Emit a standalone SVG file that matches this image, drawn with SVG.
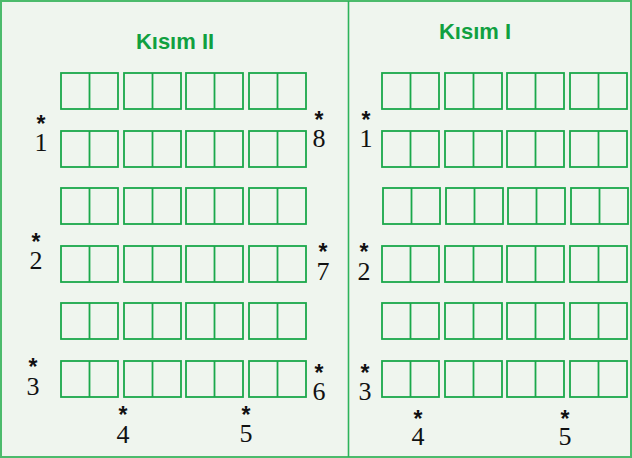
<svg xmlns="http://www.w3.org/2000/svg" xmlns:xlink="http://www.w3.org/1999/xlink" width="632" height="458" viewBox="0 0 632 458">
<style>
.frame{fill:#eff5ee;stroke:#4cbb6c;stroke-width:2}
.div{stroke:#2db35a;stroke-width:1.6}
.box{fill:none;stroke:#1aa84a;stroke-width:1.8}
.title{font-family:"Liberation Sans",Arial,sans-serif;font-weight:bold;font-size:22px;fill:#10a040;text-anchor:middle}
.lbl{fill:#111;text-anchor:middle}
.ast{font-family:"Liberation Sans",Arial,sans-serif;font-weight:bold;font-size:23px}
.num{font-family:"Liberation Serif","Times New Roman",serif;font-size:26px}
</style>
<defs>
<g id="pair"><rect class="box" x="0" y="0" width="57" height="36"/><line class="box" x1="28.5" y1="0" x2="28.5" y2="36"/></g>
<g id="row"><use xlink:href="#pair" x="0"/><use xlink:href="#pair" x="63"/><use xlink:href="#pair" x="125"/><use xlink:href="#pair" x="188"/></g>
</defs>
<rect class="frame" x="1" y="1" width="630" height="456"/>
<line class="div" x1="348.5" y1="1" x2="348.5" y2="457"/>
<g id="kisim2">
<text class="title" x="175" y="49">Kısım II</text>
<use xlink:href="#row" x="61" y="73"/>
<use xlink:href="#row" x="61" y="131"/>
<use xlink:href="#row" x="61" y="188"/>
<use xlink:href="#row" x="61" y="246"/>
<use xlink:href="#row" x="61" y="303"/>
<use xlink:href="#row" x="61" y="361"/>
<text class="lbl"><tspan class="ast" x="41" y="132">*</tspan><tspan class="num" x="41" y="151">1</tspan></text>
<text class="lbl"><tspan class="ast" x="36" y="250">*</tspan><tspan class="num" x="36" y="269">2</tspan></text>
<text class="lbl"><tspan class="ast" x="33" y="375">*</tspan><tspan class="num" x="33" y="395">3</tspan></text>
<text class="lbl"><tspan class="ast" x="123" y="423">*</tspan><tspan class="num" x="123" y="443">4</tspan></text>
<text class="lbl"><tspan class="ast" x="246" y="423">*</tspan><tspan class="num" x="246" y="442">5</tspan></text>
<text class="lbl"><tspan class="ast" x="319" y="381">*</tspan><tspan class="num" x="319" y="400">6</tspan></text>
<text class="lbl"><tspan class="ast" x="323" y="260">*</tspan><tspan class="num" x="323" y="280">7</tspan></text>
<text class="lbl"><tspan class="ast" x="319" y="128">*</tspan><tspan class="num" x="319" y="147">8</tspan></text>
</g>
<g id="kisim1">
<text class="title" x="475" y="39">Kısım I</text>
<use xlink:href="#row" x="382" y="73"/>
<use xlink:href="#row" x="382" y="131"/>
<use xlink:href="#row" x="383" y="188"/>
<use xlink:href="#row" x="382" y="246"/>
<use xlink:href="#row" x="382" y="303"/>
<use xlink:href="#row" x="382" y="361"/>
<text class="lbl"><tspan class="ast" x="366" y="128">*</tspan><tspan class="num" x="366" y="147">1</tspan></text>
<text class="lbl"><tspan class="ast" x="364" y="260">*</tspan><tspan class="num" x="364" y="280">2</tspan></text>
<text class="lbl"><tspan class="ast" x="365" y="381">*</tspan><tspan class="num" x="365" y="400">3</tspan></text>
<text class="lbl"><tspan class="ast" x="418" y="427">*</tspan><tspan class="num" x="418" y="445">4</tspan></text>
<text class="lbl"><tspan class="ast" x="565" y="427">*</tspan><tspan class="num" x="565" y="445">5</tspan></text>
</g>
</svg>
